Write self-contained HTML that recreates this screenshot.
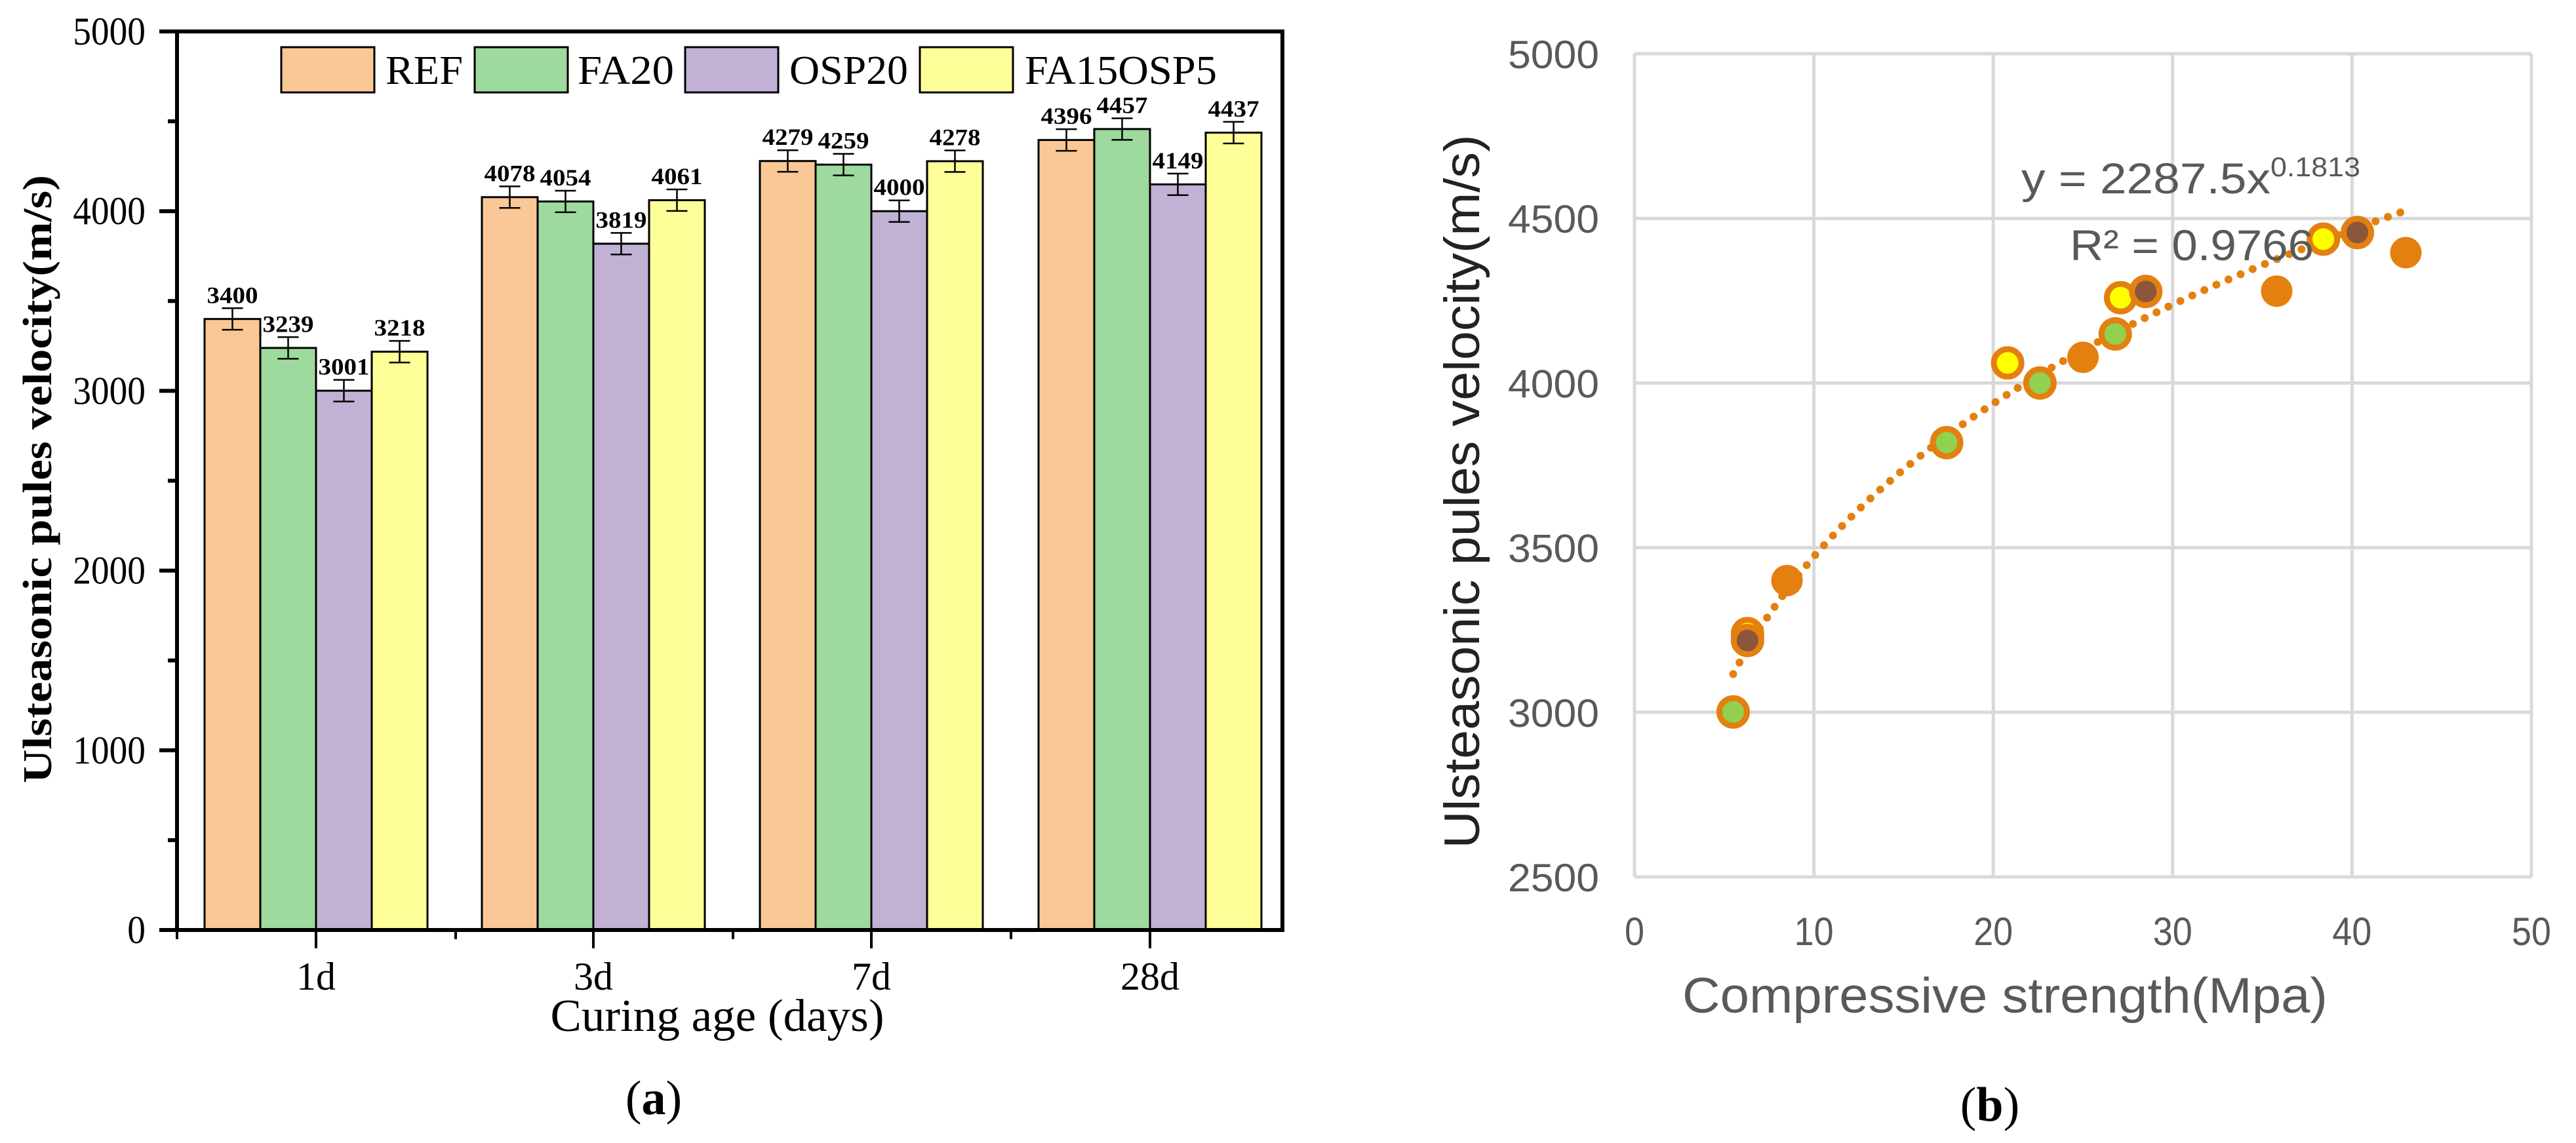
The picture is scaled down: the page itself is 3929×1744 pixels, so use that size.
<!DOCTYPE html>
<html><head><meta charset="utf-8"><style>
html,body{margin:0;padding:0;background:#fff;}
svg{display:block;}
</style></head><body>
<svg id="fig" width="3929" height="1744" viewBox="0 0 3929 1744" xmlns="http://www.w3.org/2000/svg">
<g id="chartA"></g>
<g id="chartB"></g>
</svg>
<script>
// ---- Chart (a) data ----
const ageCategories = ["1d","3d","7d","28d"];
const seriesNames = ["REF","FA20","OSP20","FA15OSP5"];
const refValues = [3400,4078,4279,4396];
const fa20Values = [3239,4054,4259,4457];
const osp20Values = [3001,3819,4000,4149];
const fa15osp5Values = [3218,4061,4278,4437];
const errorValues = [60,60,60,60];
const yTicksA = [0,1000,2000,3000,4000,5000];

// ---- Chart (b) data ----
const refStrength = [8.5,25,35.8,43];
const refVelocity = [3400,4078,4279,4396];
const ospStrength = [5.5,17.4,22.6,26.8];
const ospVelocity = [3001,3819,4000,4149];
const fa15Strength = [6.3,20.8,27.1,38.4];
const fa15Velocity = [3239,4061,4259,4437];
const fa20Strength = [6.3,28.5,40.3];
const fa20Velocity = [3218,4278,4457];
const fitCoef = [2287.5];
const fitExp = [0.1813];
const fitRange = [5.5,42.8];
const xTicksB = [0,10,20,30,40,50];
const yTicksB = [2500,3000,3500,4000,4500,5000];

const NS = "http://www.w3.org/2000/svg";
function mk(parent, tag, attrs, text){
  const e = document.createElementNS(NS, tag);
  for (const k in attrs) e.setAttribute(k, attrs[k]);
  if (text !== undefined) e.textContent = text;
  parent.appendChild(e);
  return e;
}

// ===== Chart A =====
(function(){
  const g = document.getElementById('chartA');
  const L=270, R=1956, T=48, B=1419;
  const y = v => B - (v/5000)*(B-T);
  const centers = [482,905,1329,1754];
  const bw = 85;
  const colors = ["#FAC896","#9ED99E","#C1B1D5","#FFFF99"];
  const series = [refValues, fa20Values, osp20Values, fa15osp5Values];
  const serif = '"Liberation Serif", serif';

  for (let s=0; s<4; s++){
    for (let i=0; i<ageCategories.length; i++){
      const v = series[s][i];
      const x0 = centers[i] - 2*bw + s*bw;
      const r = mk(g,'rect',{x:x0,y:y(v),width:bw,height:B-y(v),fill:colors[s],stroke:'#000','stroke-width':3});
      
      
      const cx = x0 + bw/2, e = errorValues[i];
      const eb = mk(g,'path',{d:`M${cx} ${y(v+e)}V${y(v-e)}M${cx-16} ${y(v+e)}H${cx+16}M${cx-16} ${y(v-e)}H${cx+16}`,stroke:'#000','stroke-width':2.5,fill:'none'});
      
      
      const t = mk(g,'text',{x:cx,y:y(v+e)-8,'text-anchor':'middle','font-family':serif,'font-weight':'bold','font-size':36,textLength:78,lengthAdjust:'spacingAndGlyphs'}, String(v));
      
      
    }
  }
  const fr = mk(g,'rect',{x:L,y:T,width:R-L,height:B-T,fill:'none',stroke:'#000','stroke-width':6});
  
  
  for (let v=0; v<=5000; v+=500){
    const major = v%1000===0;
    mk(g,'line',{x1:L-(major?27:14),x2:L,y1:y(v),y2:y(v),stroke:'#000','stroke-width':6});
  }
  yTicksA.forEach(v=>{
    const s = String(v);
    const t = mk(g,'text',{x:222,y:y(v)+20,'text-anchor':'end','font-family':serif,'font-size':60,textLength:s.length*27.7,lengthAdjust:'spacingAndGlyphs'}, s);
    
    
  });
  const bounds = [270,695,1118,1542];
  bounds.forEach(x=> mk(g,'line',{x1:x,x2:x,y1:B,y2:B+14,stroke:'#000','stroke-width':4}));
  centers.forEach(x=> mk(g,'line',{x1:x,x2:x,y1:B,y2:B+28,stroke:'#000','stroke-width':4}));
  ageCategories.forEach((c,i)=>{
    const t = mk(g,'text',{x:centers[i],y:1510,'text-anchor':'middle','font-family':serif,'font-size':60}, c);
    
    
  });
  const xt = mk(g,'text',{x:1094,y:1573,'text-anchor':'middle','font-family':serif,'font-size':70,textLength:509,lengthAdjust:'spacingAndGlyphs'}, 'Curing age (days)');
  
  
  const yt = mk(g,'text',{x:0,y:0,transform:'translate(78,731) rotate(-90)','text-anchor':'middle','font-family':serif,'font-weight':'bold','font-size':62,textLength:928,lengthAdjust:'spacingAndGlyphs'}, 'Ulsteasonic pules velocity(m/s)');
  
  
  const lb = [[429,588,118],[724,881,147],[1045,1204,181],[1403,1563,293]];
  seriesNames.forEach((n,s)=>{
    const r = mk(g,'rect',{x:lb[s][0],y:72,width:142,height:69,fill:colors[s],stroke:'#000','stroke-width':3});
    
    
    const t = mk(g,'text',{x:lb[s][1],y:128,'font-family':serif,'font-size':62,textLength:lb[s][2],lengthAdjust:'spacingAndGlyphs'}, n);
    
    
  });
  const pa = mk(g,'text',{x:997,y:1700,'text-anchor':'middle','font-family':serif,'font-size':74},'');
  
  
  mk(pa,'tspan',{},'(');
  mk(pa,'tspan',{'font-weight':'bold'},'a');
  mk(pa,'tspan',{},')');
})();

// ===== Chart B =====
(function(){
  const g = document.getElementById('chartB');
  const L=2493, R=3861, T=82, B=1338;
  const x = v => L + (v/50)*(R-L);
  const y = v => B - ((v-2500)/2500)*(B-T);
  const sans = '"Liberation Sans", sans-serif';
  const gray = '#595959';
  xTicksB.forEach(v=>{
    const gl = mk(g,'line',{x1:x(v),x2:x(v),y1:T,y2:B,stroke:'#d9d9d9','stroke-width':5});
    
    
    const t = mk(g,'text',{x:x(v),y:1442,'text-anchor':'middle','font-family':sans,'font-size':60,fill:gray,textLength:String(v).length*30,lengthAdjust:'spacingAndGlyphs'}, String(v));
    
    
  });
  yTicksB.forEach(v=>{
    const gl = mk(g,'line',{x1:L,x2:R,y1:y(v),y2:y(v),stroke:'#d9d9d9','stroke-width':5});
    
    
    const t = mk(g,'text',{x:2439,y:y(v)+22,'text-anchor':'end','font-family':sans,'font-size':60,fill:gray,textLength:139,lengthAdjust:'spacingAndGlyphs'}, String(v));
    
    
  });
  let d='';
  const n=80;
  for (let i=0;i<=n;i++){
    const xv = fitRange[0] + (fitRange[1]-fitRange[0])*i/n;
    const yv = fitCoef[0]*Math.pow(xv, fitExp[0]);
    d += (i? 'L':'M') + x(xv).toFixed(1) + ' ' + y(yv).toFixed(1);
  }
  const tl = mk(g,'path',{d:d,fill:'none',stroke:'#E3800F','stroke-width':12,'stroke-linecap':'round','stroke-dasharray':'0.1 20'});
  
  
  function pts(xs, ys, fill, ring, name){
    xs.forEach((xv,i)=>{
      const c = mk(g,'circle',{cx:x(xv),cy:y(ys[i]),r: ring?21:24,fill:fill,stroke:ring?'#E3800F':'none','stroke-width':ring?9:0});
      
      
    });
  }
  pts(refStrength, refVelocity, '#E3800F', false, 'point-ref');
  pts(ospStrength, ospVelocity, '#92D050', true, 'point-osp20');
  pts(fa15Strength, fa15Velocity, '#FFFF00', true, 'point-fa15osp5');
  pts(fa20Strength, fa20Velocity, '#8A563C', true, 'point-fa20');
  const eq = mk(g,'text',{x:3083,y:295,'font-family':sans,'font-size':66,fill:gray},'');
  
  
  mk(eq,'tspan',{textLength:380,lengthAdjust:'spacingAndGlyphs'},'y = 2287.5x');
  mk(eq,'tspan',{dy:-26,'font-size':42,textLength:137,lengthAdjust:'spacingAndGlyphs'},'0.1813');
  const r2 = mk(g,'text',{x:3157,y:397,'font-family':sans,'font-size':66,fill:gray},'');
  
  
  mk(r2,'tspan',{textLength:372,lengthAdjust:'spacingAndGlyphs'},'R² = 0.9766');
  const xt = mk(g,'text',{x:3058,y:1545,'text-anchor':'middle','font-family':sans,'font-size':76,fill:gray,textLength:984,lengthAdjust:'spacingAndGlyphs'},'Compressive strength(Mpa)');
  
  
  const yt = mk(g,'text',{x:0,y:0,transform:'translate(2256,750) rotate(-90)','text-anchor':'middle','font-family':sans,'font-size':76,fill:'#222',textLength:1089,lengthAdjust:'spacingAndGlyphs'},'Ulsteasonic pules velocity(m/s)');
  
  
  const pb = mk(g,'text',{x:3035,y:1710,'text-anchor':'middle','font-family':'"Liberation Serif", serif','font-size':74},'');
  
  
  mk(pb,'tspan',{},'(');
  mk(pb,'tspan',{'font-weight':'bold'},'b');
  mk(pb,'tspan',{},')');
})();
</script>
</body></html>
